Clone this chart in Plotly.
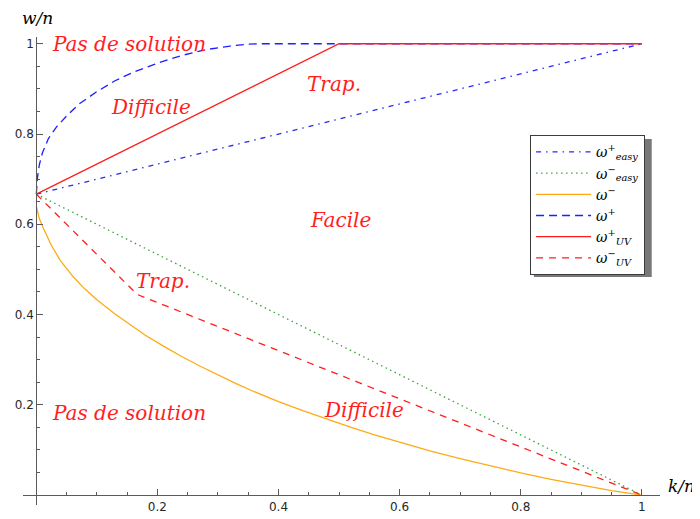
import plotly.graph_objects as go

# courbes (k/n, w/n)
k_easy = [0, 1]
w_easy_plus = [2 / 3, 1]
w_easy_minus = [2 / 3, 0]

k_minus = [0, 0.005, 0.012, 0.025, 0.04, 0.062, 0.08, 0.10, 0.13, 0.155, 0.18, 0.21, 0.24,
           0.27, 0.30, 0.33, 0.36, 0.40, 0.44, 0.48, 0.52, 0.56, 0.60, 0.65, 0.70, 0.75,
           0.80, 0.85, 0.90, 0.95, 1.0]
w_minus = [0.64, 0.612, 0.59, 0.553, 0.519, 0.482, 0.457, 0.433, 0.401, 0.377, 0.354,
           0.330, 0.307, 0.286, 0.266, 0.247, 0.229, 0.207, 0.187, 0.168, 0.150, 0.133,
           0.117, 0.098, 0.081, 0.065, 0.049, 0.035, 0.022, 0.010, 0.0]

k_plus = [0, 0.002, 0.005, 0.01, 0.02, 0.034, 0.05, 0.07, 0.10, 0.13, 0.16, 0.20, 0.24,
          0.28, 0.32, 0.35, 0.37, 1.0]
w_plus = [0.667, 0.705, 0.732, 0.758, 0.79, 0.817, 0.84, 0.866, 0.894, 0.918, 0.937,
          0.957, 0.974, 0.987, 0.995, 0.999, 1.0, 1.0]

k_uv_plus = [0, 0.5, 1]
w_uv_plus = [2 / 3, 1, 1]
k_uv_minus = [0, 1 / 6, 1]
w_uv_minus = [2 / 3, 4 / 9, 0]

# zones
zones = [
    ('Pas de solution', 0.153, 1.0),
    ('Difficile', 0.19, 0.86),
    ('Trap.', 0.492, 0.911),
    ('Facile', 0.502, 0.61),
    ('Trap.', 0.21, 0.475),
    ('Pas de solution', 0.153, 0.182),
    ('Difficile', 0.541, 0.188),
]

ticks = [0.2, 0.4, 0.6, 0.8, 1]
tick_labels = ['0.2', '0.4', '0.6', '0.8', '1']

serif = 'DejaVu Serif'
rouge = 'rgb(255,30,30)'

fig = go.Figure()

series = [
    (k_easy, w_easy_plus, 'ω<sup>+</sup><sub>easy</sub>', 'rgb(40,40,255)', '5px,5px,1.5px,5px'),
    (k_easy, w_easy_minus, 'ω<sup>−</sup><sub>easy</sub>', 'rgb(60,160,60)', '1.5px,3.5px'),
    (k_minus, w_minus, 'ω<sup>−</sup>', 'rgb(255,170,20)', 'solid'),
    (k_plus, w_plus, 'ω<sup>+</sup>', 'rgb(30,30,255)', '8px,5px'),
    (k_uv_plus, w_uv_plus, 'ω<sup>+</sup><sub>UV</sub>', rouge, 'solid'),
    (k_uv_minus, w_uv_minus, 'ω<sup>−</sup><sub>UV</sub>', rouge, '7px,6px'),
]

for k, w, nom, couleur, tiret in series:
    fig.add_trace(go.Scatter(
        x=k, y=w, mode='lines', name='<i>' + nom + '</i>',
        line=dict(color=couleur, width=1.3, dash=tiret),
    ))

for texte, x, y in zones:
    fig.add_annotation(x=x, y=y, xref='x', yref='y', text='<i>' + texte + '</i>',
                       showarrow=False, font=dict(family=serif, size=20, color=rouge))

# étiquettes des axes
fig.add_annotation(x=0.0, y=1.0, xref='paper', yref='paper', xanchor='left', yanchor='bottom',
                   xshift=-3, yshift=7, text='<i>w/n</i>', showarrow=False,
                   font=dict(family=serif, size=17, color='black'))
fig.add_annotation(x=1.0, y=0.0, xref='paper', yref='paper', xanchor='left', yanchor='middle',
                   xshift=6, yshift=19, text='<i>k/n</i>', showarrow=False,
                   font=dict(family=serif, size=17, color='black'))

# ombre de la légende
fig.add_shape(type='rect', xref='paper', yref='paper', x0=0.802, x1=0.987, y0=0.487, y1=0.782,
              fillcolor='rgb(120,120,120)', line=dict(width=0), layer='above')

axe = dict(
    tickvals=ticks, ticktext=tick_labels, ticks='inside', ticklen=6,
    tickcolor='rgb(90,90,90)', showline=True, linecolor='rgb(90,90,90)', linewidth=1.2,
    showgrid=False, zeroline=False, anchor='free', automargin=False,
    tickfont=dict(family='DejaVu Sans', size=12, color='rgb(40,40,40)'),
    minor=dict(ticks='inside', dtick=0.05, tick0=0, ticklen=3, tickcolor='rgb(90,90,90)',
               showgrid=False),
)

# la page ajoute 8 px de marge autour de la figure
fig.update_layout(
    width=692, height=511,
    plot_bgcolor='white', paper_bgcolor='white',
    margin=dict(l=15, r=40, t=29, b=14, autoexpand=False),
    xaxis=dict(axe, range=[-0.022, 1.03], position=0.0212),
    yaxis=dict(axe, range=[-0.022, 1.015], position=0.0209),
    legend=dict(x=0.796, y=0.79, xanchor='left', yanchor='top',
                bgcolor='white', bordercolor='rgb(60,60,60)', borderwidth=1,
                itemwidth=55, tracegroupgap=0,
                font=dict(family=serif, size=14, color='black')),
    showlegend=True,
)

fig.write_html('out.html')
